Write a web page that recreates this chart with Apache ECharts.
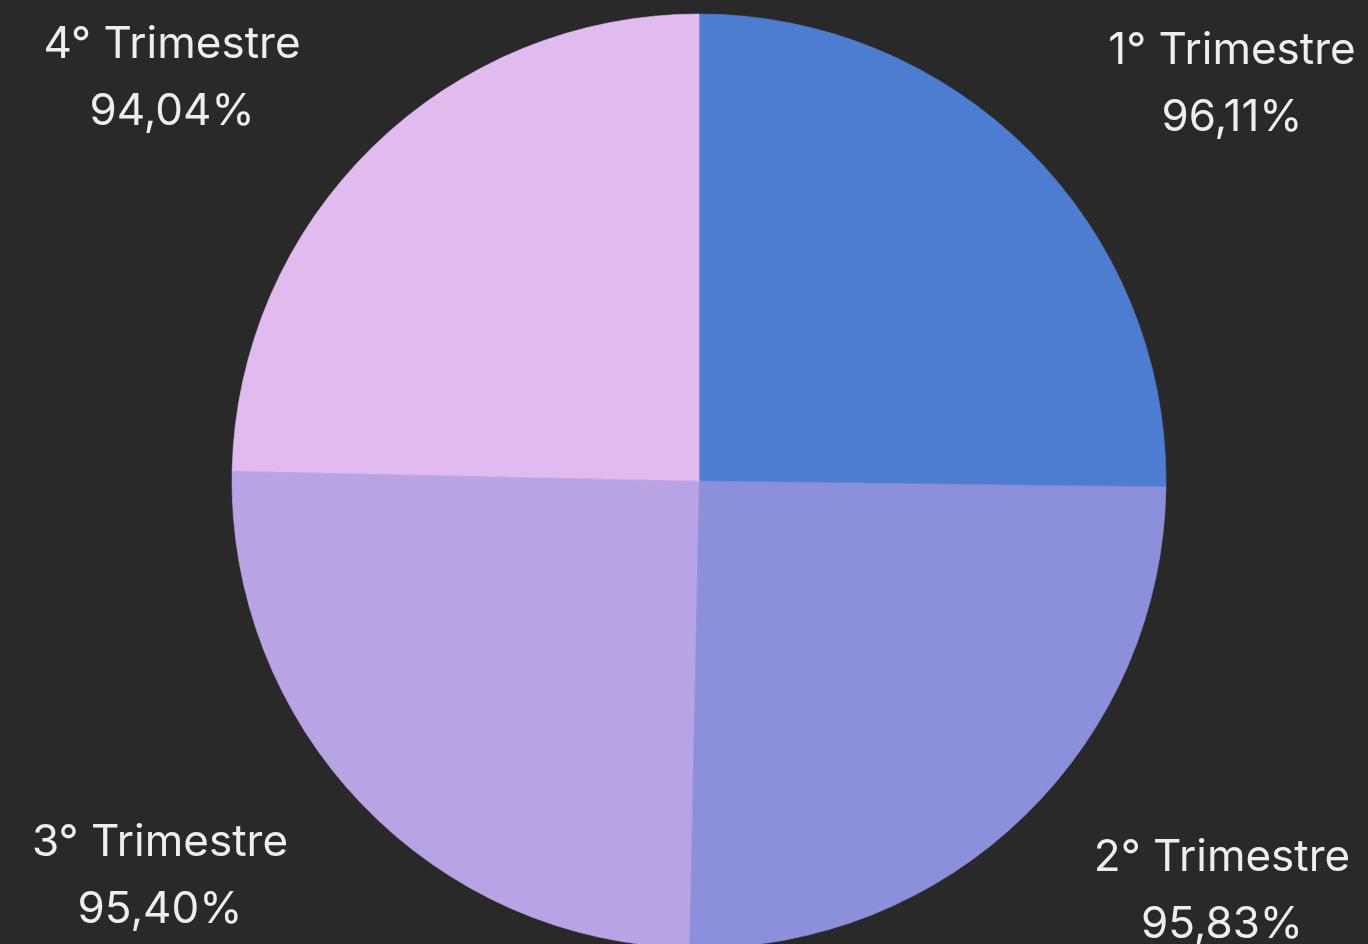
<!DOCTYPE html>
<html><head><meta charset="utf-8">
<script src="https://cdn.jsdelivr.net/npm/echarts@6/dist/echarts.min.js"></script>
<style>html,body{margin:0;padding:0;background:#292929;}#c{width:1368px;height:944px;}</style>
</head><body><div id="c"></div>
<script>
const categories = ['1° Trimestre', '2° Trimestre', '3° Trimestre', '4° Trimestre'];
const values = [96.11, 95.83, 95.40, 94.04];
const colors = ['#4D7DD0', '#8C90DB', '#B8A4E4', '#E1BBEF'];
const labelPos = [[1232, 84], [1222, 891], [160, 876], [172, 78]];

const chart = echarts.init(document.getElementById('c'));
chart.setOption({
  backgroundColor: '#292929',
  animation: false,
  series: [{
    type: 'pie',
    center: [699, 481],
    radius: 467,
    startAngle: 90,
    clockwise: true,
    data: categories.map((n, i) => ({name: n, value: values[i], itemStyle: {color: colors[i], borderColor: colors[i], borderWidth: 0.6}})),
    label: {
      show: true,
      position: 'outside',
      color: '#EEEEEE',
      fontFamily: 'Inter',
      fontWeight: 400,
      fontSize: 44,
      lineHeight: 67,
      align: 'center',
      formatter: p => p.name + '\n' + p.value.toFixed(2).replace('.', ',') + '%'
    },
    labelLine: {show: false},
    labelLayout: p => ({x: labelPos[p.dataIndex][0], y: labelPos[p.dataIndex][1], align: 'center', verticalAlign: 'middle'})
  }]
});
</script></body></html>
